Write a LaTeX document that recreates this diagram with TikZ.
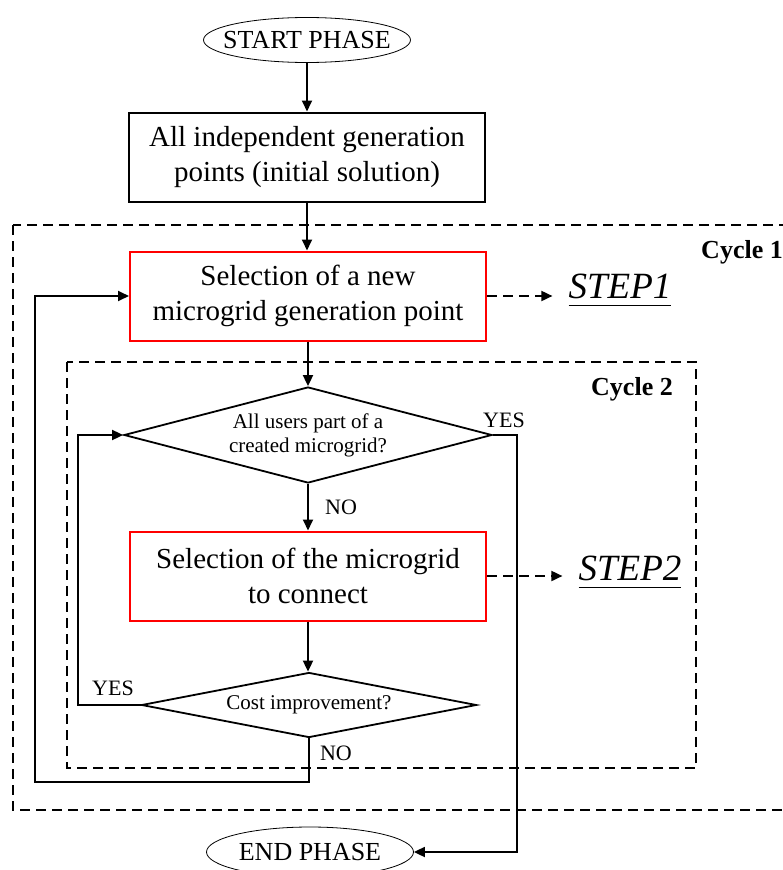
\documentclass[tikz,border=0pt]{standalone}
\usepackage{fontspec}
\setmainfont{Liberation Serif}
\usetikzlibrary{arrows.meta,shapes.geometric}

\begin{document}
\begin{tikzpicture}[x=1pt,y=-1pt,
    >={Triangle[length=11pt,width=10pt]},
    line/.style={line width=1.8pt},
    phase/.style={draw,ellipse,line width=0.8pt,inner xsep=-12pt,inner ysep=2pt,minimum width=207pt,minimum height=45pt,font=\fontsize{26}{30}\selectfont},
    block/.style={draw,line width=2pt,inner sep=0pt,minimum width=356pt,minimum height=89pt,align=center,font=\fontsize{29}{35}\selectfont},
    redblock/.style={block,draw=red},
    decision/.style={draw,diamond,aspect=4,line width=1.8pt,inner sep=0pt,align=center,font=\fontsize{21}{24}\selectfont},
    cycle/.style={line width=1.8pt,dash pattern=on 10pt off 6pt},
    steplabel/.style={inner sep=2pt,font=\fontsize{37}{40}\selectfont\itshape},
    cyclelabel/.style={anchor=east,inner sep=0pt,font=\fontsize{26}{30}\selectfont\bfseries},
    tag/.style={inner sep=0pt,font=\fontsize{22}{24}\selectfont}]
  \useasboundingbox (0,0) rectangle (783,870);
  \clip (0,0) rectangle (783,870);

  % the two loops
  \draw[cycle] (13,225) rectangle (800,810);
  \draw[cycle] (67,362) rectangle (696,768);
  \node[cyclelabel] (cyc1) at (783,252) {Cycle 1};
  \node[cyclelabel] (cyc2) at (673,389) {Cycle 2};

  \node[phase] (start) at (307,40) {START PHASE};
  \node[block] (init) at (307,157) {All independent generation\\points (initial solution)};
  \node[redblock] (newpt) at (308,296) {Selection of a new\\microgrid generation point};
  \node[decision,minimum width=368pt,minimum height=96pt] (allusers) at (308,435) {All users part of a\\created microgrid?};
  \node[redblock] (connect) at (308,576) {Selection of the microgrid\\to connect};
  \node[decision,minimum width=335pt,minimum height=65pt] (cost) at (309,705) {Cost improvement?};
  \node[phase,minimum height=50pt] (end) at (310,852) {END PHASE};

  \node[steplabel] (step1) at (620,290) {\underline{STEP1\vphantom{,}}};
  \node[steplabel] (step2) at (630,572) {\underline{STEP2\vphantom{,}}};

  \draw[line,->] (start) -- (init);
  \draw[line,->] (init) -- (init |- newpt.north);
  \draw[line,->] (newpt) -- (allusers);
  \draw[line,->] (allusers) -- (connect);
  \draw[line,->] (connect) -- (connect |- cost.north);
  \draw[cycle,->,shorten >=14pt] (newpt.east) -- (newpt.east -| step1.west);
  \draw[cycle,->,shorten >=14pt] (connect.east) -- (connect.east -| step2.west);

  \coordinate (yesright) at (517,435);
  \coordinate (yesleft) at (78,705);
  \coordinate (nobottom) at (35,782);
  \draw[line,->] (allusers.east) -- (yesright) |- (end.east);
  \draw[line,->] (cost.west) -- (yesleft) |- (allusers.west);
  \draw[line,->] (cost.south) |- (nobottom) |- (newpt.west);

  \node[tag] (yes1) at (504,420) {YES};
  \node[tag] (no1) at (341,507) {NO};
  \node[tag] (yes2) at (113,688) {YES};
  \node[tag] (no2) at (336,753) {NO};
\end{tikzpicture}
\end{document}
